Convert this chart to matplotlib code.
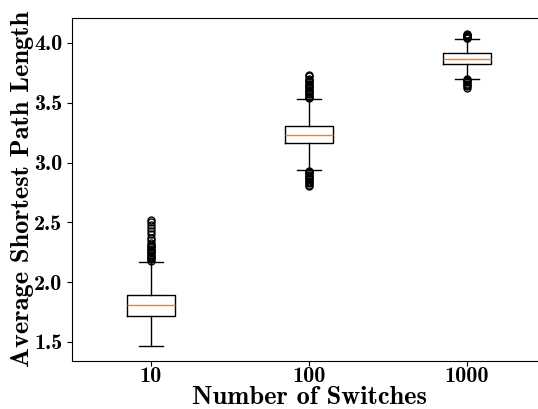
import numpy as np
from matplotlib import pyplot as plt

plt.rcParams['font.family'] = 'cmb10'
plt.rcParams['axes.unicode_minus'] = False

labels = ['10', '100', '1000']
positions = [1, 2, 3]

# box stats
whislo = [1.47, 2.94, 3.70]
q1 = [1.717, 3.164, 3.825]
med = [1.81, 3.23, 3.866]
q3 = [1.895, 3.306, 3.916]
whishi = [2.165, 3.53, 4.03]

fliers10 = [2.18, 2.19, 2.20, 2.21, 2.22, 2.23, 2.24, 2.25, 2.26, 2.27, 2.28,
            2.29, 2.30, 2.31, 2.33, 2.35, 2.37, 2.40, 2.43, 2.45, 2.48, 2.50, 2.52]
fliers100 = [2.80, 2.81, 2.83, 2.84, 2.85, 2.86, 2.87, 2.88, 2.89, 2.90, 2.91,
             2.92, 2.93, 3.54, 3.55, 3.56, 3.57, 3.58, 3.59, 3.60, 3.61, 3.62,
             3.63, 3.64, 3.65, 3.66, 3.67, 3.68, 3.69, 3.70, 3.72, 3.735]
fliers1000 = [3.62, 3.64, 3.65, 3.66, 3.67, 3.68, 3.69, 3.70, 4.04, 4.045,
              4.05, 4.055, 4.06, 4.065, 4.07, 4.075]
fliers = [fliers10, fliers100, fliers1000]

stats = []
for i in range(3):
	stats.append({'whislo': whislo[i], 'q1': q1[i], 'med': med[i], 'q3': q3[i],
	              'whishi': whishi[i], 'fliers': np.array(fliers[i]), 'label': labels[i]})

fig = plt.figure(figsize=(5.38, 4.09), dpi=100)
ax = fig.add_axes([0.1338, 0.1174, 0.881, 0.8398])
ax.bxp(stats, positions=positions, widths=0.3, flierprops={'markersize': 5})
ax.set_xlim(0.5, 3.5)
ax.set_ylim(1.341, 4.213)
ax.set_yticks([1.5, 2.0, 2.5, 3.0, 3.5, 4.0])
ax.tick_params(labelsize=16)
ax.tick_params(axis='x', pad=1)
ax.set_xlabel('Number of Switches', fontsize=19, labelpad=0)
ax.set_ylabel('Average Shortest Path Length', fontsize=19, labelpad=0)

plt.savefig('out.png', dpi=100)
